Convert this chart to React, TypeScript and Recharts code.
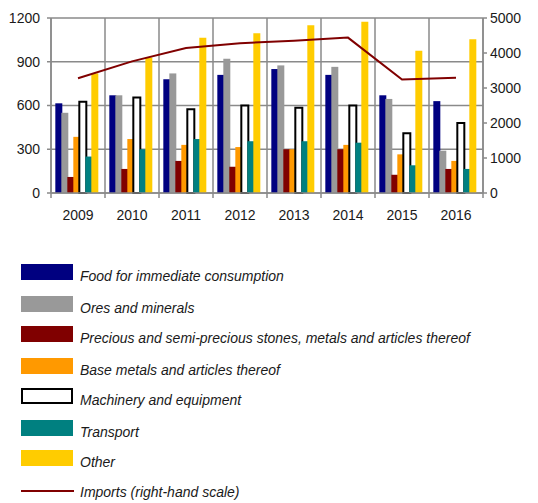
import React from 'react';
import { ComposedChart, Bar, Line, XAxis, YAxis, CartesianGrid, Legend } from 'recharts';

// Exports by product group (left scale) and total imports (right scale)
const years = ['2009', '2010', '2011', '2012', '2013', '2014', '2015', '2016'];
const food = [615, 670, 780, 810, 850, 810, 670, 630];
const ores = [550, 670, 820, 920, 875, 865, 645, 290];
const precious = [110, 165, 220, 180, 300, 300, 125, 165];
const baseMetals = [385, 370, 330, 315, 300, 330, 265, 220];
const machinery = [625, 655, 575, 600, 585, 600, 410, 480];
const transport = [250, 300, 370, 355, 355, 345, 190, 165];
const other = [820, 930, 1065, 1095, 1150, 1175, 975, 1055];
const imports = [3280, 3760, 4140, 4280, 4350, 4440, 3240, 3290];

const leftTicks = [0, 300, 600, 900, 1200];
const rightTicks = [0, 1000, 2000, 3000, 4000, 5000];

const CHART_W = 530;
const CHART_H = 495;
const LEFT_W = 43;
const RIGHT_W = 55;
const BAND = (CHART_W - LEFT_W - RIGHT_W) / years.length;

const GRID = '#8a8a8a';
const FONT = '"Liberation Sans", Arial, sans-serif';
const LINE_RED = '#800000';

const barSeries = [
  { key: 'food', name: 'Food for immediate consumption', fill: '#000080', stroke: 'none' },
  { key: 'ores', name: 'Ores and minerals', fill: '#999999', stroke: 'none' },
  { key: 'precious', name: 'Precious and semi-precious stones, metals and articles thereof', fill: '#800000', stroke: 'none' },
  { key: 'baseMetals', name: 'Base metals and articles thereof', fill: '#ff9900', stroke: 'none' },
  { key: 'machinery', name: 'Machinery and equipment', fill: '#ffffff', stroke: '#000000' },
  { key: 'transport', name: 'Transport', fill: '#008080', stroke: 'none' },
  { key: 'other', name: 'Other', fill: '#ffcc00', stroke: 'none' },
];

const YearTick = (props: any) => {
  const { x, y, payload, index } = props;
  const axisY = y - 17;
  const last = index === years.length - 1;
  return (
    <g>
      <line x1={x - BAND / 2} x2={x - BAND / 2} y1={axisY} y2={axisY + 5} stroke={GRID} strokeWidth={1.5} />
      {last && <line x1={x + BAND / 2} x2={x + BAND / 2} y1={axisY} y2={axisY + 5} stroke={GRID} strokeWidth={1.5} />}
      <text x={x} y={y} dy="0.71em" textAnchor="middle" fontSize={14} fontFamily={FONT} fill="#1a1a1a">
        {payload.value}
      </text>
    </g>
  );
};

const LegendBlock = () => {
  const rowTops = [11, 43, 73, 105, 135, 167, 197];
  return (
    <div style={{ position: 'relative', height: 250, width: CHART_W, fontFamily: FONT, fontStyle: 'italic', fontSize: 14, color: '#1a1a1a' }}>
      {barSeries.map((s, i) => (
        <React.Fragment key={s.key}>
          <div
            style={{
              position: 'absolute',
              left: 13,
              top: rowTops[i],
              width: 52,
              height: 16,
              boxSizing: 'border-box',
              background: s.fill,
              border: s.stroke === 'none' ? 'none' : `2px solid ${s.stroke}`,
            }}
          />
          <div style={{ position: 'absolute', left: 72, top: rowTops[i] + 3, lineHeight: '18px', whiteSpace: 'nowrap' }}>{s.name}</div>
        </React.Fragment>
      ))}
      <div style={{ position: 'absolute', left: 13, top: 237, width: 53, height: 2, background: LINE_RED }} />
      <div style={{ position: 'absolute', left: 72, top: 230, lineHeight: '18px', whiteSpace: 'nowrap' }}>Imports (right-hand scale)</div>
    </div>
  );
};

export default function App() {
  const data = years.map((year, i) => ({
    year,
    food: food[i],
    ores: ores[i],
    precious: precious[i],
    baseMetals: baseMetals[i],
    machinery: machinery[i],
    transport: transport[i],
    other: other[i],
    imports: imports[i],
  }));

  const tickStyle = { fontSize: 14, fontFamily: FONT, fill: '#1a1a1a' };

  return (
    <ComposedChart
      width={CHART_W}
      height={CHART_H}
      data={data}
      margin={{ top: 10, right: 0, bottom: 0, left: 0 }}
      barCategoryGap="8%"
      barGap={-1}
    >
      <CartesianGrid
        yAxisId="left"
        stroke={GRID}
        strokeWidth={1.5}
        verticalCoordinatesGenerator={({ offset }: any) =>
          years.map((_, i) => offset.left + i * (offset.width / years.length)).concat(offset.left + offset.width)
        }
      />
      <XAxis
        dataKey="year"
        height={60}
        interval={0}
        axisLine={{ stroke: GRID, strokeWidth: 1.5 }}
        tickLine={false}
        tickSize={5}
        tickMargin={12}
        tick={<YearTick />}
      />
      <YAxis
        yAxisId="left"
        width={LEFT_W}
        domain={[0, 1200]}
        ticks={leftTicks}
        interval={0}
        axisLine={{ stroke: GRID, strokeWidth: 1.5 }}
        tickLine={{ stroke: GRID, strokeWidth: 1.5 }}
        tickSize={4}
        tickMargin={7}
        tick={tickStyle}
      />
      <YAxis
        yAxisId="right"
        orientation="right"
        width={RIGHT_W}
        domain={[0, 5000]}
        ticks={rightTicks}
        interval={0}
        axisLine={{ stroke: GRID, strokeWidth: 1.5 }}
        tickLine={{ stroke: GRID, strokeWidth: 1.5 }}
        tickSize={4}
        tickMargin={3}
        tick={tickStyle}
      />
      {barSeries.map((s) => (
        <Bar
          key={s.key}
          yAxisId="left"
          dataKey={s.key}
          name={s.name}
          fill={s.fill}
          stroke={s.stroke}
          strokeWidth={s.stroke === 'none' ? 0 : 2}
          isAnimationActive={false}
        />
      ))}
      <Line
        yAxisId="right"
        type="linear"
        dataKey="imports"
        name="Imports (right-hand scale)"
        stroke={LINE_RED}
        strokeWidth={2}
        dot={false}
        activeDot={false}
        isAnimationActive={false}
      />
      <Legend verticalAlign="bottom" content={<LegendBlock />} wrapperStyle={{ left: 0 }} />
    </ComposedChart>
  );
}
